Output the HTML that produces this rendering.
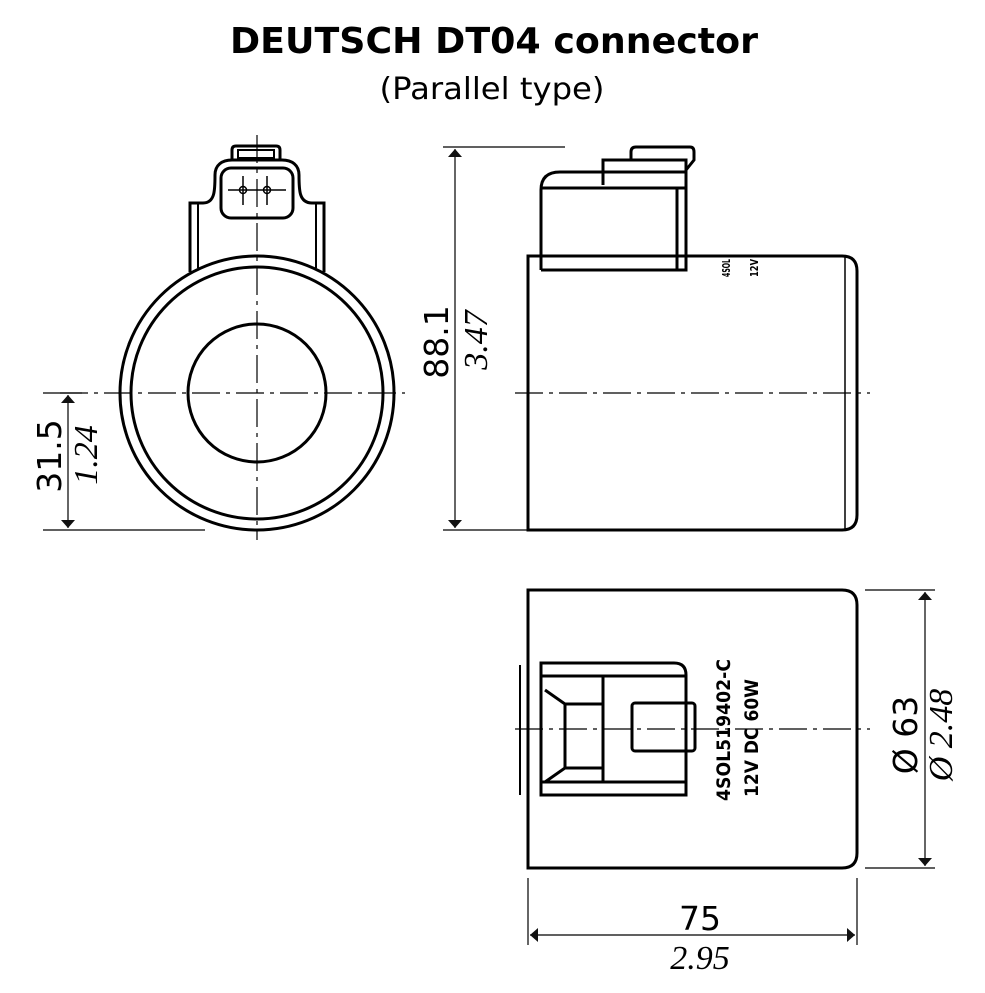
<!DOCTYPE html>
<html><head><style>
body{margin:0;background:#fff;}
svg{display:block;}
</style></head><body>
<svg width="985" height="993" viewBox="0 0 985 993" xmlns="http://www.w3.org/2000/svg">
<defs>
<marker id="a" viewBox="0 0 10 10" refX="10" refY="5" markerWidth="8" markerHeight="14" markerUnits="userSpaceOnUse" orient="auto-start-reverse" preserveAspectRatio="none"><path d="M0,0L10,5L0,10z" fill="#111"/></marker>
</defs>
<text x="494" y="53" text-anchor="middle" font-family="DejaVu Sans, sans-serif" font-weight="bold" font-size="36" textLength="528" lengthAdjust="spacingAndGlyphs">DEUTSCH DT04 connector</text>
<text x="492" y="99" text-anchor="middle" font-family="DejaVu Sans, sans-serif" font-size="30" textLength="225" lengthAdjust="spacingAndGlyphs">(Parallel type)</text>

<g fill="none" stroke="#000" stroke-width="3">
<!-- left view -->
<circle cx="257" cy="393" r="137"/>
<circle cx="257" cy="393" r="126"/>
<circle cx="257" cy="393" r="69"/>
<path d="M190,272 V203 H203 C215,203 215,190 215,175 C215,165 222,160 232,160 H282 C292,160 299,165 299,175 C299,190 299,203 312,203 H324 V272"/>
<path d="M198,268 V203 M316,268 V203" stroke-width="2"/>
<rect x="221" y="168" width="72" height="50" rx="10"/>
<path d="M232,160 V150 Q232,146 236,146 H276 Q280,146 280,150 V160"/>
<rect x="238" y="150" width="36" height="8" stroke-width="2"/>
<!-- right top view -->
<path d="M528,530 V256 H842 Q857,256 857,271 V515 Q857,530 842,530 Z"/>
<path d="M541,270 V190 Q541,172 560,172 H603"/>
<path d="M541,270 H686 V172 H603 V160 H686 V172"/>
<path d="M541,188 H686 M603,160 V185 M677,188 V270" stroke-width="3"/>
<path d="M631,160 V152 Q631,147 636,147 H690 Q694,147 694,152 V160 L686,170"/>
<path d="M845,256 V530" stroke-width="1.5"/>
<!-- bottom view -->
<path d="M528,868 V590 H842 Q857,590 857,605 V853 Q857,868 842,868 Z"/>
<path d="M541,663 H674 Q686,663 686,675 V795 H541 Z"/>
<path d="M541,676 H686 M541,782 H686"/>
<path d="M545,690 L565,704 V768 L545,782 M565,704 H603 V768 H565 M603,676 V782"/>
<rect x="632" y="703" width="63" height="48" rx="3"/>
<path d="M520,665 V795" stroke-width="2"/>
</g>
<g fill="none" stroke="#000" stroke-width="1.5">
<circle cx="243" cy="190" r="3.5"/><circle cx="267" cy="190" r="3.5"/>
<path d="M228,190 H286 M243,176 V205 M267,176 V205"/>
</g>

<g stroke="#000" stroke-width="1.2" fill="none">
<path d="M60,393 H405" stroke-dasharray="28,6,4,6"/>
<path d="M257,135 V540" stroke-dasharray="28,6,4,6"/>
<path d="M515,393 H870" stroke-dasharray="28,6,4,6"/>
<path d="M515,729 H870" stroke-dasharray="28,6,4,6"/>
<path d="M443,147 H565 M443,530 H528 M43,393 H82 M43,530 H205 M865,590 H935 M865,868 H935 M528,878 V945 M857,878 V945"/>
<path d="M455,149 V528" marker-start="url(#a)" marker-end="url(#a)"/>
<path d="M68,395 V528" marker-start="url(#a)" marker-end="url(#a)"/>
<path d="M925,592 V866" marker-start="url(#a)" marker-end="url(#a)"/>
<path d="M530,935 H855" marker-start="url(#a)" marker-end="url(#a)"/>
</g>

<g font-family="DejaVu Sans, sans-serif" font-size="33" fill="#000">
<text transform="translate(448,342) rotate(-90)" text-anchor="middle">88.1</text>
<text transform="translate(61,456) rotate(-90)" text-anchor="middle">31.5</text>
<text transform="translate(917,735) rotate(-90)" text-anchor="middle">Ø 63</text>
<text x="700" y="930" text-anchor="middle">75</text>
</g>
<g font-family="Liberation Serif, serif" font-style="italic" font-size="34" fill="#000">
<text transform="translate(487,340) rotate(-90)" text-anchor="middle">3.47</text>
<text transform="translate(97,455) rotate(-90)" text-anchor="middle">1.24</text>
<text transform="translate(952,735) rotate(-90)" text-anchor="middle">Ø 2.48</text>
<text x="700" y="969" text-anchor="middle">2.95</text>
</g>
<g font-family="DejaVu Sans, sans-serif" font-weight="bold" font-size="19" fill="#000">
<text transform="translate(730,730) rotate(-90)" text-anchor="middle" textLength="142" lengthAdjust="spacingAndGlyphs">4SOL519402-C</text>
<text transform="translate(758,738) rotate(-90)" text-anchor="middle" textLength="118" lengthAdjust="spacingAndGlyphs">12V DC 60W</text>
<text transform="translate(730,268) rotate(-90)" text-anchor="middle" font-size="11" textLength="18" lengthAdjust="spacingAndGlyphs">4SOL</text>
<text transform="translate(758,268) rotate(-90)" text-anchor="middle" font-size="11" textLength="18" lengthAdjust="spacingAndGlyphs">12V</text>
</g>
</svg>
</body></html>
